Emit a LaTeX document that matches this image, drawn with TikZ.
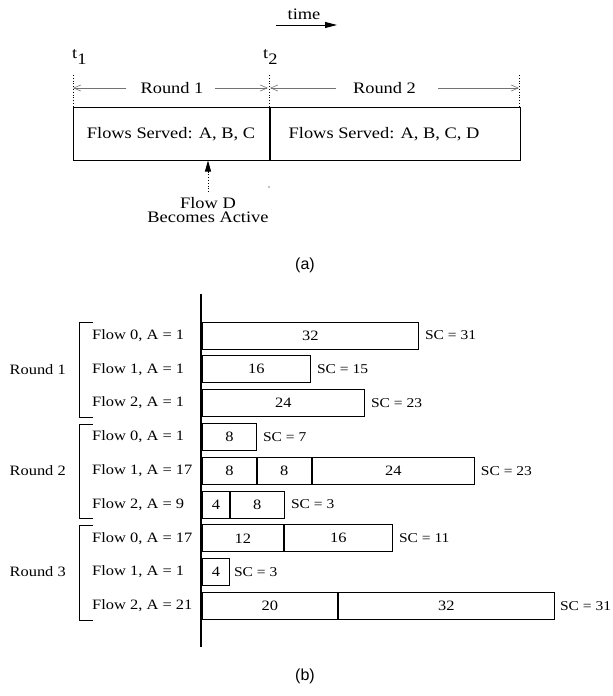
\documentclass[tikz,border=0pt]{standalone}
\usepackage{fontspec}
\setmainfont{Liberation Serif}[FakeStretch=1.15]
\newfontfamily\capfont{Liberation Sans}
\usetikzlibrary{arrows.meta}
\begin{document}
\begin{tikzpicture}[x=1pt,y=-1pt,
  txa/.style={font=\fontsize{16}{13.5}\selectfont, inner sep=0pt},
  txb/.style={font=\fontsize{14.3}{14.3}\selectfont, inner sep=0pt},
  txs/.style={font=\fontsize{13.5}{13.5}\selectfont, inner sep=0pt, anchor=west},
  capt/.style={font=\capfont\fontsize{16}{16}\selectfont, inner sep=0pt},
  cella/.style={draw, line width=1pt, minimum height=53pt, inner sep=0pt, anchor=west},
  seg/.style={draw, line width=0.9pt, minimum height=27pt, minimum width={#1*6.75pt}, inner sep=0pt, anchor=west, font=\fontsize{14.3}{14.3}\selectfont},
  rar/.style={draw=black!55, line width=0.6pt, -{Straight Barb[length=7pt,width=6pt]}},
  dotline/.style={dotted, line width=0.8pt},
]
\useasboundingbox (0,0) rectangle (613,696);

% ---------- (a) ----------
\node[txa] (time) at (304,14) {time};
\coordinate (ts) at (276,25);
\coordinate (te) at (337,25);
\draw[line width=1pt, -{Triangle[length=12pt,width=6pt]}] (ts) -- (te);

\node[txa, anchor=west] (t1) at (72,57) {t\raisebox{-6pt}{1}};
\node[txa, anchor=west] (t2) at (263,57) {t\raisebox{-6pt}{2}};

\coordinate (d1t) at (73,75);  \coordinate (d1b) at (73,106);
\coordinate (d2t) at (269,75); \coordinate (d2b) at (269,106);
\coordinate (d3t) at (519,75); \coordinate (d3b) at (519,106);
\draw[dotline] (d1t) -- (d1b);
\draw[dotline] (d2t) -- (d2b);
\draw[dotline] (d3t) -- (d3b);

\node[txa] (r1) at (172,88) {Round 1};
\node[txa] (r2) at (384.5,88) {Round 2};
\coordinate (r1l) at (73,88);  \coordinate (r1r) at (268,88);
\coordinate (r2l) at (270,88); \coordinate (r2r) at (519,88);
\draw[rar] ([xshift=-14pt]r1.west) -- (r1l);
\draw[rar] ([xshift=11pt]r1.east) -- (r1r);
\draw[rar] ([xshift=-17pt]r2.west) -- (r2l);
\draw[rar] ([xshift=22pt]r2.east) -- (r2r);

\node[cella, minimum width=196pt] (c1) at (73,133.5) {};
\node[cella, minimum width=250pt] (c2) at (c1.east) {};
\node[txa] (fs1) at (171,134) {Flows Served: A, B, C};
\node[txa] (fs2) at (384,134) {Flows Served: A, B, C, D};

\coordinate (fdtip) at (208,160.5);
\coordinate (fdmid) at (208,172);
\coordinate (fdbot) at (208,192);
\draw[dotline] (fdbot) -- (fdmid);
\draw[line width=0.8pt, -{Triangle[length=11pt,width=6pt]}] (fdmid) -- (fdtip);
\node[txa, align=center] (fd) at (208,210) {Flow D\\Becomes Active};
\fill (269,187) circle (0.6);

\node[capt] (capa) at (305,265) {(a)};

% ---------- (b) ----------
\coordinate (axt) at (201,294);
\coordinate (axb) at (201,647);
\draw[line width=1.2pt] (axt) -- (axb);

% row centers
\def\ya{335.5}\def\yb{369.3}\def\yc{403.1}
\def\yd{436.9}\def\ye{470.7}\def\yf{504.5}
\def\yg{538.3}\def\yh{572.1}\def\yi{605.9}

% left labels
\node[txb, anchor=west] (l1) at (92,\ya) {Flow 0, A = 1};
\node[txb, anchor=west] (l2) at (92,\yb) {Flow 1, A = 1};
\node[txb, anchor=west] (l3) at (92,\yc) {Flow 2, A = 1};
\node[txb, anchor=west] (l4) at (92,\yd) {Flow 0, A = 1};
\node[txb, anchor=west] (l5) at (92,\ye) {Flow 1, A = 17};
\node[txb, anchor=west] (l6) at (92,\yf) {Flow 2, A = 9};
\node[txb, anchor=west] (l7) at (92,\yg) {Flow 0, A = 17};
\node[txb, anchor=west] (l8) at (92,\yh) {Flow 1, A = 1};
\node[txb, anchor=west] (l9) at (92,\yi) {Flow 2, A = 21};

\node[txb, anchor=east] (rd1) at (66,\yb) {Round 1};
\node[txb, anchor=east] (rd2) at (66,\ye) {Round 2};
\node[txb, anchor=east] (rd3) at (66,\yh) {Round 3};

\draw[line width=0.9pt] (93,322) -- (79,322) -- (79,417) -- (93,417);
\draw[line width=0.9pt] (93,424.5) -- (79,424.5) -- (79,518) -- (93,518);
\draw[line width=0.9pt] (93,525.5) -- (79,525.5) -- (79,620) -- (93,620);

% bars
\node[seg=32] (a1) at (202,\ya) {32};
\node[txs] (s1) at ([xshift=6pt]a1.east) {SC = 31};

\node[seg=16] (b1) at (202,\yb) {16};
\node[txs] (s2) at ([xshift=6pt]b1.east) {SC = 15};

\node[seg=24] (c1b) at (202,\yc) {24};
\node[txs] (s3) at ([xshift=6pt]c1b.east) {SC = 23};

\node[seg=8] (d1) at (202,\yd) {8};
\node[txs] (s4) at ([xshift=6pt]d1.east) {SC = 7};

\node[seg=8] (e1) at (202,\ye) {8};
\node[seg=8] (e2) at (e1.east) {8};
\node[seg=24] (e3) at (e2.east) {24};
\node[txs] (s5) at ([xshift=6pt]e3.east) {SC = 23};

\node[seg=4] (f1) at (202,\yf) {4};
\node[seg=8] (f2) at (f1.east) {8};
\node[txs] (s6) at ([xshift=6pt]f2.east) {SC = 3};

\node[seg=12] (g1) at (202,\yg) {12};
\node[seg=16] (g2) at (g1.east) {16};
\node[txs] (s7) at ([xshift=6pt]g2.east) {SC = 11};

\node[seg=4] (h1) at (202,\yh) {4};
\node[txs] (s8) at ([xshift=4pt]h1.east) {SC = 3};

\node[seg=20] (i1) at (202,\yi) {20};
\node[seg=32] (i2) at (i1.east) {32};
\node[txs] (s9) at ([xshift=5pt]i2.east) {SC = 31};

\node[capt] (capb) at (305,676) {(b)};
\end{tikzpicture}
\end{document}
